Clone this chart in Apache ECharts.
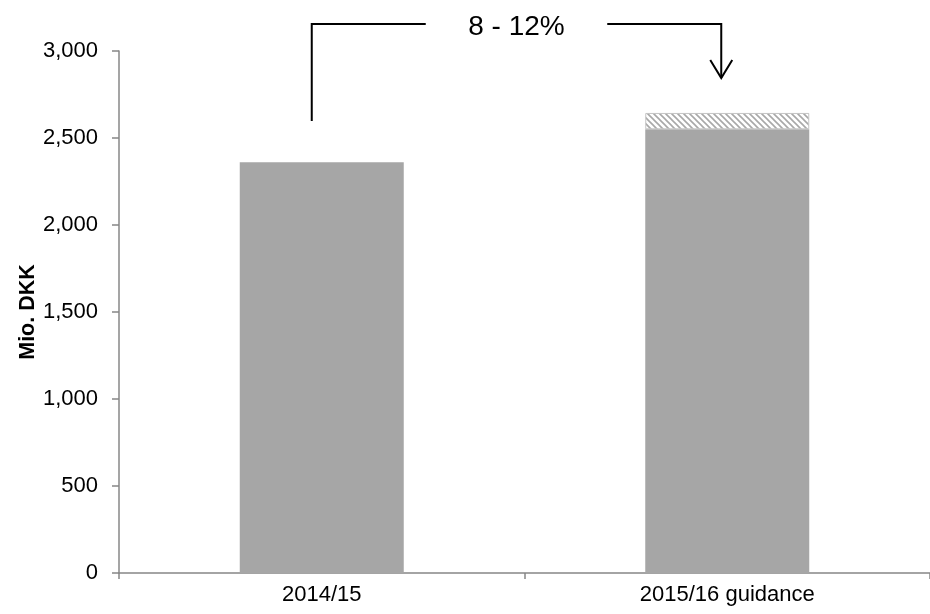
<!DOCTYPE html>
<html>
<head>
<meta charset="utf-8">
<script src="https://cdn.jsdelivr.net/npm/echarts@6/dist/echarts.min.js"></script>
<style>
html,body{margin:0;padding:0;background:#fff;}
#c{width:930px;height:614px;}
</style>
</head>
<body>
<div id="c"></div>
<script>
const categories = ['2014/15', '2015/16 guidance'];
const baseValues = [2361, 2550];
const rangeValues = [null, 94];
const yTicks = [0, 500, 1000, 1500, 2000, 2500, 3000];
const annotationText = '8 - 12%';

function hatch() {
  const s = 6;
  const cv = document.createElement('canvas');
  cv.width = s; cv.height = s;
  const ctx = cv.getContext('2d');
  ctx.fillStyle = '#ffffff';
  ctx.fillRect(0, 0, s, s);
  ctx.strokeStyle = '#a8a8a8';
  ctx.lineWidth = 1.6;
  ctx.beginPath();
  ctx.moveTo(0, 0); ctx.lineTo(s, s);
  ctx.moveTo(-s, 0); ctx.lineTo(s, 2 * s);
  ctx.moveTo(0, -s); ctx.lineTo(2 * s, s);
  ctx.stroke();
  return cv;
}

const chart = echarts.init(document.getElementById('c'), null, {renderer: 'canvas'});
const font = 'Liberation Sans, Arial, Helvetica, sans-serif';
const axisGray = '#878787';

chart.setOption({
  animation: false,
  textStyle: {fontFamily: font},
  grid: {left: 119, width: 816, top: 51, height: 522, containLabel: false},
  xAxis: {
    type: 'category',
    data: categories,
    axisLine: {lineStyle: {color: axisGray, width: 1.5}},
    axisTick: {show: true, alignWithLabel: false, length: 6, lineStyle: {color: axisGray, width: 1.5}},
    axisLabel: {color: '#000', fontSize: 22, margin: 11, fontFamily: font}
  },
  yAxis: {
    type: 'value',
    min: yTicks[0],
    max: yTicks[yTicks.length - 1],
    interval: yTicks[1] - yTicks[0],
    name: 'Mio. DKK',
    nameLocation: 'middle',
    nameGap: 80,
    nameMoveOverlap: false,
    nameTextStyle: {color: '#000', fontSize: 21.5, fontWeight: 'bold', fontFamily: font},
    axisLine: {show: true, lineStyle: {color: axisGray, width: 1.5}},
    axisTick: {show: true, length: 7, lineStyle: {color: axisGray, width: 1.5}},
    splitLine: {show: false},
    axisLabel: {
      color: '#000', fontSize: 22, margin: 21, fontFamily: font,
      formatter: v => v.toLocaleString('en-US')
    }
  },
  series: [
    {
      type: 'bar',
      stack: 'a',
      data: baseValues,
      barWidth: 164,
      itemStyle: {color: '#a6a6a6'}
    },
    {
      type: 'bar',
      stack: 'a',
      data: rangeValues,
      barWidth: 164,
      itemStyle: {color: {image: hatch(), repeat: 'repeat'}, borderColor: '#c4c4c4', borderWidth: 1}
    }
  ]
});

// annotation anchored to the bars
const p1 = chart.convertToPixel({gridIndex: 0}, [0, 0]);
const p2 = chart.convertToPixel({gridIndex: 0}, [1, 0]);
const leftX = p1[0] - 10;
const rightX = p2[0] - 6;
const topY = 24;
const leftBottom = 121;
const arrowTip = 78;
const textX = (leftX + rightX) / 2;
const lineStyle = {stroke: '#000', lineWidth: 2, fill: null};
chart.setOption({
  graphic: [
    {type: 'polyline', shape: {points: [[leftX, leftBottom], [leftX, topY], [leftX + 114, topY]]}, style: lineStyle},
    {type: 'polyline', shape: {points: [[rightX - 114, topY], [rightX, topY], [rightX, arrowTip]]}, style: lineStyle},
    {type: 'polyline', shape: {points: [[rightX - 11, arrowTip - 18], [rightX, arrowTip], [rightX + 11, arrowTip - 18]]}, style: lineStyle},
    {type: 'text', x: textX, y: topY + 3, style: {text: annotationText, fill: '#000', font: '28px ' + font, align: 'center', verticalAlign: 'middle'}}
  ]
});
</script>
</body>
</html>
